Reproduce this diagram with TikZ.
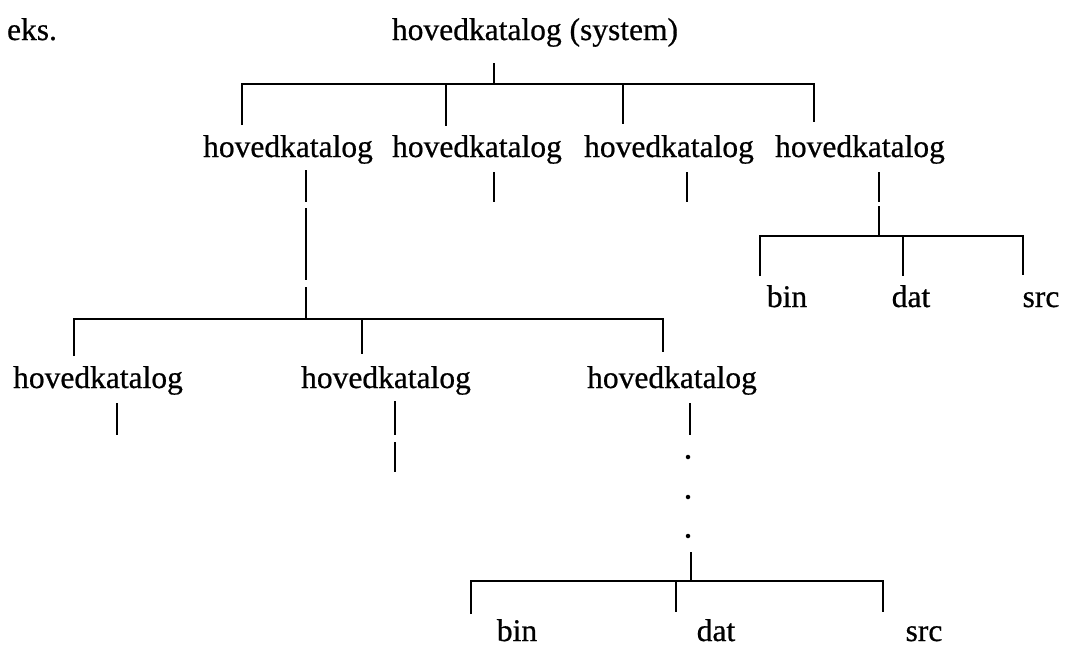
\documentclass[tikz,border=0pt]{standalone}
\usepackage{fontspec}
\setmainfont[FakeBold=0.6]{Liberation Serif}
\begin{document}
\begin{tikzpicture}[x=1pt,y=-1pt,
  lbl/.style={inner sep=0pt, anchor=base, font=\fontsize{31.5pt}{36pt}\selectfont},
  ln/.style={line width=2pt},
  dotnode/.style={circle, fill=black, inner sep=0pt, minimum size=4.5pt}]
\useasboundingbox[fill=white] (0,0) rectangle (1068,646);

% ---- labels ----
\node[lbl] (eks)  at (32,40)   {eks.};
\node[lbl] (root) at (535,40)  {hovedkatalog (system)};
\node[lbl] (h1) at (288,157) {hovedkatalog};
\node[lbl] (h2) at (477,157) {hovedkatalog};
\node[lbl] (h3) at (669,157) {hovedkatalog};
\node[lbl] (h4) at (860,157) {hovedkatalog};
\node[lbl] (g1) at (98,388)  {hovedkatalog};
\node[lbl] (g2) at (386,388) {hovedkatalog};
\node[lbl] (g3) at (672,388) {hovedkatalog};
\node[lbl] (rb) at (787,307)  {bin};
\node[lbl] (rd) at (911,307)  {dat};
\node[lbl] (rs) at (1041,307) {src};
\node[lbl] (bb) at (517,641)  {bin};
\node[lbl] (bd) at (716,641)  {dat};
\node[lbl] (bs) at (924,641)  {src};

% ---- level 1 ----
\coordinate (r0) at (494,63);
\coordinate (r1) at (494,84);
\coordinate (a1) at (242,84);  \coordinate (a1e) at (242,125);
\coordinate (a2) at (446,84);  \coordinate (a2e) at (446,126);
\coordinate (a3) at (623,84);  \coordinate (a3e) at (623,124);
\coordinate (a4) at (814,84);  \coordinate (a4e) at (814,122);
\draw[ln] (r0) -- (r1);
\draw[ln] (a1e) -- (a1) -- (a4) -- (a4e);
\draw[ln] (a2) -- (a2e);
\draw[ln] (a3) -- (a3e);

% ---- stems below level 1 ----
\coordinate (s1) at (306,170);  \coordinate (s1e) at (306,319);
\coordinate (s2) at (494,172);  \coordinate (s2e) at (494,202);
\coordinate (s3) at (687,172);  \coordinate (s3e) at (687,202);
\coordinate (s4) at (879,172);  \coordinate (s4e) at (879,236);
\draw[ln, dash pattern=on 32pt off 6pt on 72pt off 7pt on 60pt] (s1) -- (s1e);
\draw[ln] (s2) -- (s2e);
\draw[ln] (s3) -- (s3e);
\draw[ln, dash pattern=on 30pt off 4pt on 60pt] (s4) -- (s4e);

% ---- right group bin/dat/src ----
\coordinate (c1) at (760,236);  \coordinate (c1e) at (760,276);
\coordinate (c2) at (903,236);  \coordinate (c2e) at (903,276);
\coordinate (c3) at (1023,236); \coordinate (c3e) at (1023,275);
\draw[ln] (c1e) -- (c1) -- (c3) -- (c3e);
\draw[ln] (c2) -- (c2e);

% ---- level 2 ----
\coordinate (b1) at (74,319);   \coordinate (b1e) at (74,356);
\coordinate (b2) at (362,319);  \coordinate (b2e) at (362,354);
\coordinate (b3) at (663,319);  \coordinate (b3e) at (663,352);
\draw[ln] (b1e) -- (b1) -- (b3) -- (b3e);
\draw[ln] (b2) -- (b2e);

% ---- stems below level 2 ----
\coordinate (u1) at (117,403);  \coordinate (u1e) at (117,435);
\coordinate (u2) at (395,401);  \coordinate (u2e) at (395,472);
\coordinate (u3) at (690,403);  \coordinate (u3e) at (690,435);
\draw[ln] (u1) -- (u1e);
\draw[ln, dash pattern=on 34pt off 7pt on 60pt] (u2) -- (u2e);
\draw[ln] (u3) -- (u3e);
\node[dotnode] (p1) at (688,457) {};
\node[dotnode] (p2) at (688,497) {};
\node[dotnode] (p3) at (688,536) {};

% ---- bottom group ----
\coordinate (q0) at (691,552);  \coordinate (q1) at (691,581);
\coordinate (e1) at (471,581);  \coordinate (e1e) at (471,614);
\coordinate (e2) at (676,581);  \coordinate (e2e) at (676,612);
\coordinate (e3) at (883,581);  \coordinate (e3e) at (883,612);
\draw[ln] (q0) -- (q1);
\draw[ln] (e1e) -- (e1) -- (e3) -- (e3e);
\draw[ln] (e2) -- (e2e);
\end{tikzpicture}
\end{document}
